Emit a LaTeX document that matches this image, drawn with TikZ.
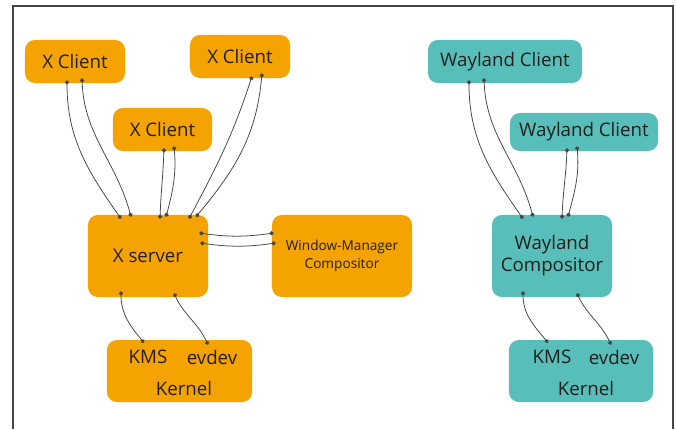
\documentclass[tikz,border=0pt]{standalone}
\usepackage{fontspec}
\setmainfont{Open Sans}
\usetikzlibrary{positioning}
\usetikzlibrary{calc}
\usetikzlibrary{arrows.meta}
\definecolor{xorange}{RGB}{245,163,0}
\definecolor{wteal}{RGB}{88,190,185}
\definecolor{ink}{RGB}{35,30,28}
\definecolor{wire}{RGB}{70,70,70}

\begin{document}
\begin{tikzpicture}[x=0.025cm,y=0.025cm,
  box/.style={rounded corners=7pt, inner sep=0pt, text=ink,
              font=\fontsize{13.3}{15.6}\selectfont, align=center},
  xbox/.style={box, fill=xorange},
  wbox/.style={box, fill=wteal},
  lbl/.style={inner sep=0pt, text=ink, font=\fontsize{13.3}{15.6}\selectfont},
  link/.style={{Circle[length=3pt]}-{Circle[length=3pt]}, draw=wire, line width=0.55pt}]

\useasboundingbox (0,0) rectangle (676,-429);

%---------------------------------------
% Frame (open at the bottom)
%---------------------------------------
\draw[wire, line width=0.9pt] (13,-429) -- (13,-6) -- (673,-6) -- (673,-429);

%====================================================
% LEFT: X11 stack
%====================================================
\node[xbox, minimum width=2.5cm, minimum height=1.075cm] (xc1) at (75,-61.5) {X Client};
\node[xbox, minimum width=2.5cm, minimum height=1.075cm] (xc2) at (240,-56.5) {X Client};
\node[xbox, minimum width=2.475cm, minimum height=1.075cm] (xc3) at (162.5,-129.5) {X Client};
\node[xbox, minimum width=3cm, minimum height=2.05cm] (xs) at (148,-256) {X server};
\node[xbox, minimum width=3.5cm, minimum height=2.05cm,
      font=\fontsize{9.7}{12.8}\selectfont] (wm) at (342,-256) {Window-Manager\\Compositor};

% Kernel box
\node[xbox, minimum width=3.625cm, minimum height=1.55cm] (kx) at (179.5,-371) {};
\node[lbl] (kxkms) at (148,-357) {KMS};
\node[lbl] (kxev)  at (212,-357) {evdev};
\node[lbl] (kxk)   at (184,-388) {Kernel};

% Clients to server
\draw[link] ($(xc1.south)+(-8,3)$)  to[out=-90, in=125] ($(xs.north)+(-27,-4)$);
\draw[link] ($(xc1.south)+(7,5)$)   to[out=-88, in=105] ($(xs.north)+(-17,-2)$);
\draw[link] ($(xc3.south)+(1.5,3)$) to[out=-92, in=88]  ($(xs.north)+(12,-4)$);
\draw[link] ($(xc3.south)+(11.5,5)$) to[out=-85, in=75] ($(xs.north)+(18,-2)$);
\draw[link] ($(xc2.south)+(12,2)$)  to[out=-108, in=62] ($(xs.north)+(41,-4)$);
\draw[link] ($(xc2.south)+(22,5)$)  to[out=-95, in=50]  ($(xs.north)+(48,-2)$);

% Server to window manager
\draw[link] ($(xs.east)+(-9,23)$) to[bend right=8] ($(wm.west)+(2,23)$);
\draw[link] ($(xs.east)+(-8,13)$) to[bend right=8] ($(wm.west)+(4,13)$);

% Server to kernel
\draw[link] ($(xs.south)+(-27,6)$) to[out=-90, in=130] ($(kx.north)+(-35.5,-3)$);
\draw[link] ($(xs.south)+(26,4)$)  to[out=-65, in=115] ($(kx.north)+(28.5,-5)$);

%====================================================
% RIGHT: Wayland stack
%====================================================
\node[wbox, minimum width=3.85cm, minimum height=1.075cm] (wc1) at (505,-61.5) {Wayland Client};
\node[wbox, minimum width=3.7cm, minimum height=0.95cm] (wc2) at (584,-132) {Wayland Client};
\node[wbox, minimum width=3cm, minimum height=2.05cm] (wco) at (552,-256) {Wayland\\Compositor};

% Kernel box
\node[wbox, minimum width=3.6cm, minimum height=1.55cm] (kw) at (581,-371) {};
\node[lbl] (kwkms) at (552,-357) {KMS};
\node[lbl] (kwev)  at (614,-357) {evdev};
\node[lbl] (kwk)   at (586,-388) {Kernel};

% Clients to compositor
\draw[link] ($(wc1.south)+(-36,3)$) to[out=-90, in=125] ($(wco.north)+(-29,-4)$);
\draw[link] ($(wc1.south)+(-21,5)$) to[out=-88, in=105] ($(wco.north)+(-19,-2)$);
\draw[link] ($(wc2.south)+(-17,3)$) to[out=-92, in=88]  ($(wco.north)+(10,-4)$);
\draw[link] ($(wc2.south)+(-7,5)$)  to[out=-85, in=75]  ($(wco.north)+(16,-2)$);

% Compositor to kernel
\draw[link] ($(wco.south)+(-29,6)$) to[out=-90, in=130] ($(kw.north)+(-33,-3)$);
\draw[link] ($(wco.south)+(25,4)$)  to[out=-65, in=115] ($(kw.north)+(30,-5)$);

\end{tikzpicture}
\end{document}
